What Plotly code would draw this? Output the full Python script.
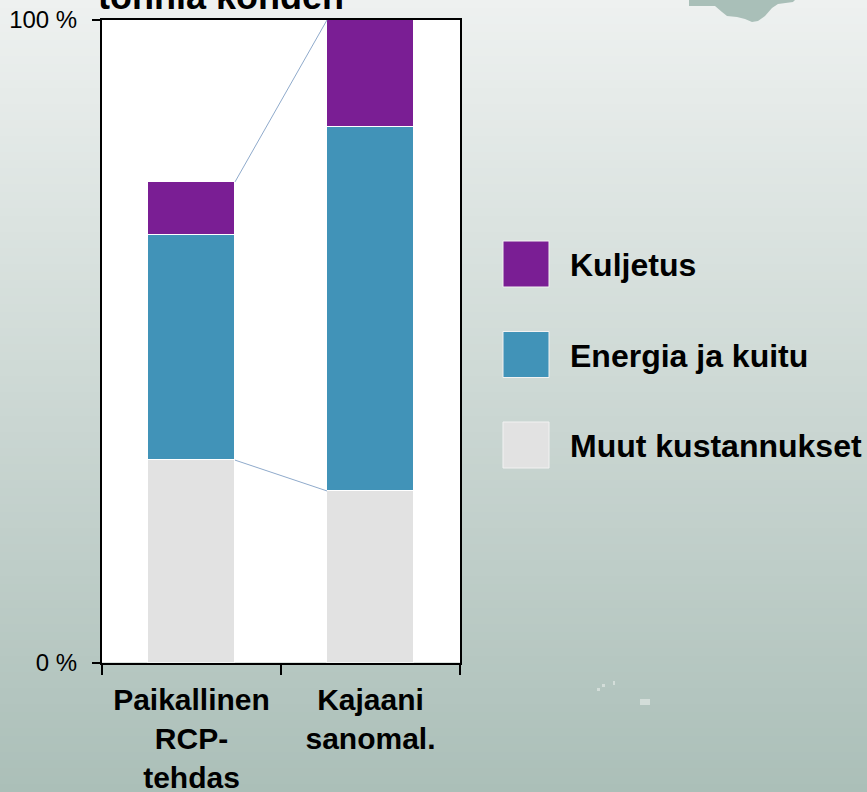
import plotly.graph_objects as go

W, H = 867, 792

# ---- data ----
categories = ["Paikallinen<br>RCP-<br>tehdas", "Kajaani<br>sanomal."]
series_names = ["Muut kustannukset", "Energia ja kuitu", "Kuljetus"]
muut = [31.5, 26.7]
energia = [35.0, 56.6]
kuljetus = [8.3, 16.7]
y_ticks = [0, 100]
y_ticktext = ["0 %", "100 %"]
title_text = "tonnia kohden"

colors = {"Muut kustannukset": "#E2E2E2", "Energia ja kuitu": "#4193B8", "Kuljetus": "#7A1E94"}
series_vals = {"Muut kustannukset": muut, "Energia ja kuitu": energia, "Kuljetus": kuljetus}

def px(x):
    return x / W

def py(y):
    return 1 - y / H

x_pos = list(range(len(categories)))
bar_w = 0.486

fig = go.Figure()
for name in series_names:
    fig.add_trace(go.Bar(
        x=x_pos, y=series_vals[name], name=name, width=bar_w,
        marker=dict(color=colors[name], line=dict(color="white", width=1.5)),
        showlegend=False,
    ))

# series lines (connect total tops and Muut tops between the bars)
totals = [m + e + k for m, e, k in zip(muut, energia, kuljetus)]
for vals in (totals, muut):
    fig.add_trace(go.Scatter(
        x=[x_pos[0] + bar_w / 2, x_pos[1] - bar_w / 2], y=vals, mode="lines",
        line=dict(color="#8FAACB", width=1), showlegend=False, hoverinfo="skip",
    ))

shapes = []
# background gradient
top_c = (238, 241, 240)
bot_c = (171, 191, 184)
n = 99
for i in range(n):
    t = (i + 0.5) / n
    c = tuple(round(a + (b - a) * t) for a, b in zip(top_c, bot_c))
    shapes.append(dict(type="rect", xref="paper", yref="paper", x0=0, x1=1,
                       y0=max(0, 1 - (i + 1) / n - 0.001), y1=1 - i / n,
                       fillcolor="rgb(%d,%d,%d)" % c, line=dict(width=0), layer="below"))
# white plot area
shapes.append(dict(type="rect", xref="paper", yref="paper", x0=px(102), x1=px(460),
                   y0=py(662.5), y1=py(20), fillcolor="white", line=dict(width=0), layer="below"))
# decorative blob at top
pts = [(689, 0), (689, 6), (715, 6), (722, 12), (727, 16), (737, 17), (745, 19), (752, 22),
       (758, 21), (765, 16), (772, 8), (778, 4), (793, 2), (795, 0)]
path = "M " + " L ".join("%f,%f" % (px(a), py(b)) for a, b in pts) + " Z"
shapes.append(dict(type="path", xref="paper", yref="paper", path=path,
                   fillcolor="#A9BFB8", line=dict(width=0), layer="below"))
# small specks
for (x0, y0, x1, y1) in [(597, 688, 600, 691), (602, 684, 605, 687), (613, 681, 615, 685), (640, 699, 650, 705)]:
    shapes.append(dict(type="rect", xref="paper", yref="paper", x0=px(x0), x1=px(x1),
                       y0=py(y1), y1=py(y0), fillcolor="#D3DDD9", line=dict(width=0), layer="below"))

# legend squares
legend_order = ["Kuljetus", "Energia ja kuitu", "Muut kustannukset"]
legend_centers = [264, 354.5, 445]
annotations = []
for name, cy in zip(legend_order, legend_centers):
    shapes.append(dict(type="rect", xref="paper", yref="paper", x0=px(503), x1=px(549),
                       y0=py(cy + 23), y1=py(cy - 23), fillcolor=colors[name],
                       line=dict(color="#F2F2F2", width=1), layer="above"))
    annotations.append(dict(text="<b>%s</b>" % name, x=px(568), y=py(cy + 1), xref="paper", yref="paper",
                            xanchor="left", yanchor="middle", showarrow=False,
                            font=dict(family="Liberation Sans, Arial", size=32, color="black")))

annotations.append(dict(text="<b>%s</b>" % title_text, x=px(96), y=py(19), xref="paper", yref="paper",
                        xanchor="left", yanchor="bottom", showarrow=False,
                        font=dict(family="Liberation Sans, Arial", size=36, color="black")))

fig.update_layout(
    width=W, height=H,
    margin=dict(l=0, r=0, t=0, b=0, pad=0, autoexpand=False),
    paper_bgcolor="rgb(205,216,212)",
    plot_bgcolor="rgba(0,0,0,0)",
    barmode="stack",
    bargap=0,
    shapes=shapes,
    annotations=annotations,
    showlegend=False,
    xaxis=dict(
        domain=[px(102), px(460)], range=[-0.5, 1.5],
        tickvals=x_pos, ticktext=["<b>%s</b>" % c for c in categories],
        ticks="", showgrid=False, zeroline=False, automargin=False,
        showline=True, linecolor="black", linewidth=2, mirror=True,
        tickfont=dict(family="Liberation Sans, Arial", size=30, color="black"),
        ticklabelstandoff=9,
        minor=dict(tick0=0.5, dtick=1, ticks="outside", ticklen=10, tickwidth=2, tickcolor="black", showgrid=False),
    ),
    yaxis=dict(
        domain=[py(662.5), py(20)], range=[0, 100],
        tickvals=y_ticks, ticktext=y_ticktext,
        ticks="outside", ticklen=8, tickwidth=2, tickcolor="black",
        showgrid=False, zeroline=False, automargin=False,
        showline=True, linecolor="black", linewidth=2, mirror=True,
        tickfont=dict(family="Liberation Sans, Arial", size=24, color="black"),
        ticklabelstandoff=10,
    ),
)

fig.write_html("out.html", config={"displayModeBar": False},
               post_script="document.body.style.margin='0';document.body.style.overflow='hidden';")
